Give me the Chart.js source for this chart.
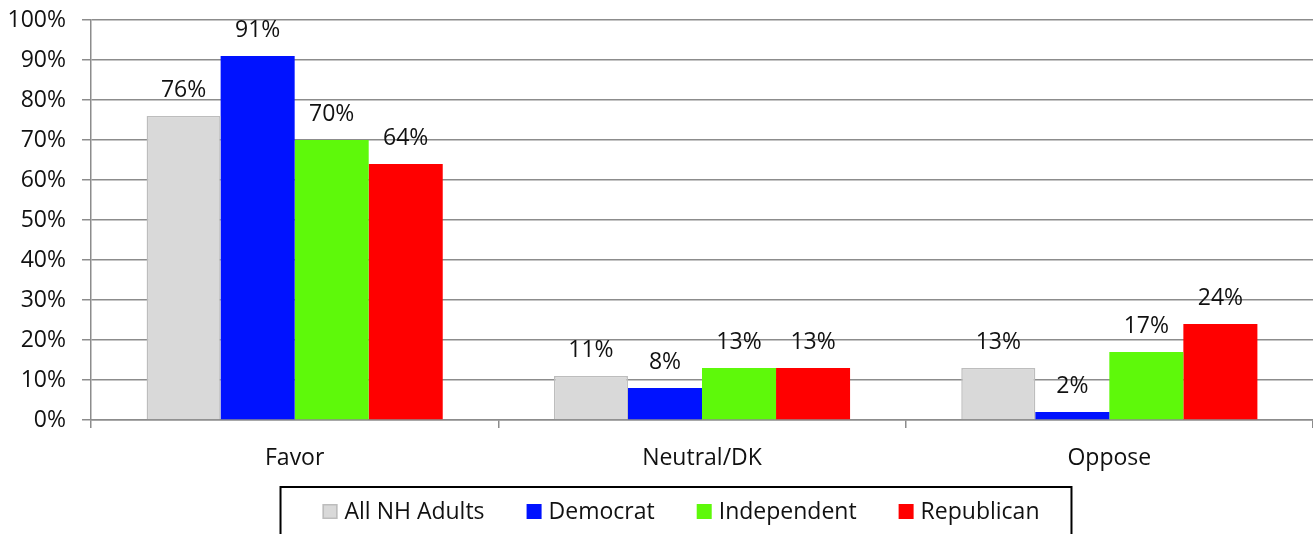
<!DOCTYPE html>
<html>
<head>
<meta charset="utf-8">
<script src="https://cdn.jsdelivr.net/npm/chart.js@4.4.0/dist/chart.umd.min.js"></script>
<style>
  html, body { margin: 0; padding: 0; background: #fff; }
  #wrap { width: 1313px; height: 534px; }
</style>
</head>
<body>
<div id="wrap"><canvas id="c" width="1313" height="534"></canvas></div>
<script>
const categories = ['Favor', 'Neutral/DK', 'Oppose'];
const seriesNames = ['All NH Adults', 'Democrat', 'Independent', 'Republican'];
const allAdults = [76, 11, 13];
const democrat = [91, 8, 2];
const independent = [70, 13, 17];
const republican = [64, 13, 24];
const yTicks = [0, 10, 20, 30, 40, 50, 60, 70, 80, 90, 100];

const FONT = "'Open Sans', 'Liberation Sans', sans-serif";
const FSIZE = 23;
const GRID = '#8c8c8c';
const TEXT = '#111';

const dataLabels = {
  id: 'dataLabels',
  afterDatasetsDraw(chart) {
    const ctx = chart.ctx;
    ctx.save();
    ctx.font = FSIZE + 'px ' + FONT;
    ctx.fillStyle = TEXT;
    ctx.textAlign = 'center';
    ctx.textBaseline = 'alphabetic';
    chart.data.datasets.forEach((ds, i) => {
      const meta = chart.getDatasetMeta(i);
      meta.data.forEach((el, j) => {
        ctx.fillText(ds.data[j] + '%', el.x, el.y - 19);
      });
    });
    ctx.restore();
  }
};

// Legend drawn from the datasets, boxed like the original
const boxedLegend = {
  id: 'boxedLegend',
  afterDraw(chart) {
    const ctx = chart.ctx;
    const ds = chart.data.datasets;
    ctx.save();
    ctx.font = FSIZE + 'px ' + FONT;
    const box = 15, gapText = 7, gapItem = 42;
    const widths = ds.map(d => ctx.measureText(d.label).width);
    const total = widths.reduce((a, w) => a + box + gapText + w, 0) + gapItem * (ds.length - 1);
    let x = 681 - total / 2;
    const baseline = 519;
    const startX = x;
    ds.forEach((d, i) => {
      ctx.fillStyle = d.backgroundColor;
      ctx.fillRect(x, baseline - box, box, box);
      if (d.borderWidth) {
        ctx.strokeStyle = d.borderColor;
        ctx.lineWidth = 1.5;
        ctx.strokeRect(x + 0.75, baseline - box + 0.75, box - 1.5, box - 1.5);
      }
      ctx.fillStyle = TEXT;
      ctx.textAlign = 'left';
      ctx.textBaseline = 'alphabetic';
      ctx.fillText(d.label, x + box + gapText, baseline);
      x += box + gapText + widths[i] + gapItem;
    });
    const endX = x - gapItem;
    ctx.strokeStyle = '#000';
    ctx.lineWidth = 2;
    ctx.strokeRect(startX - 42, 487, (endX + 32) - (startX - 42), 80);
    ctx.restore();
  }
};

new Chart(document.getElementById('c'), {
  type: 'bar',
  data: {
    labels: categories,
    datasets: [
      { label: seriesNames[0], data: allAdults, backgroundColor: '#d9d9d9', borderColor: '#bdbdbd', borderWidth: 1.5 },
      { label: seriesNames[1], data: democrat, backgroundColor: '#0012ff', borderWidth: 0 },
      { label: seriesNames[2], data: independent, backgroundColor: '#5ef90a', borderWidth: 0 },
      { label: seriesNames[3], data: republican, backgroundColor: '#ff0000', borderWidth: 0 }
    ]
  },
  options: {
    responsive: false,
    animation: false,
    devicePixelRatio: 1,
    categoryPercentage: 0.727,
    barPercentage: 1,
    layout: { padding: { top: 20, right: 0, left: 0, bottom: 54 } },
    plugins: {
      tooltip: { enabled: false },
      legend: { display: false }
    },
    scales: {
      x: {
        afterFit(s) { s.height = 60; s.paddingLeft = 0; s.paddingRight = 0; },
        grid: { display: true, drawOnChartArea: false, drawTicks: true, tickLength: 8, color: GRID, lineWidth: 1.5, offset: true },
        border: { display: true, color: GRID, width: 1.5 },
        ticks: { font: { family: FONT, size: FSIZE }, color: TEXT, padding: 17 }
      },
      y: {
        min: 0,
        max: 100,
        afterFit(s) { s.width = 91; s.paddingTop = 0; s.paddingBottom = 0; },
        afterBuildTicks(s) { s.ticks = yTicks.map(v => ({ value: v })); },
        grid: { color: GRID, lineWidth: 1.5, tickLength: 9 },
        border: { display: true, color: GRID, width: 1.5 },
        ticks: {
          font: { family: FONT, size: FSIZE },
          color: TEXT,
          padding: 16,
          callback: v => v + '%'
        }
      }
    }
  },
  plugins: [dataLabels, boxedLegend]
});
</script>
</body>
</html>
